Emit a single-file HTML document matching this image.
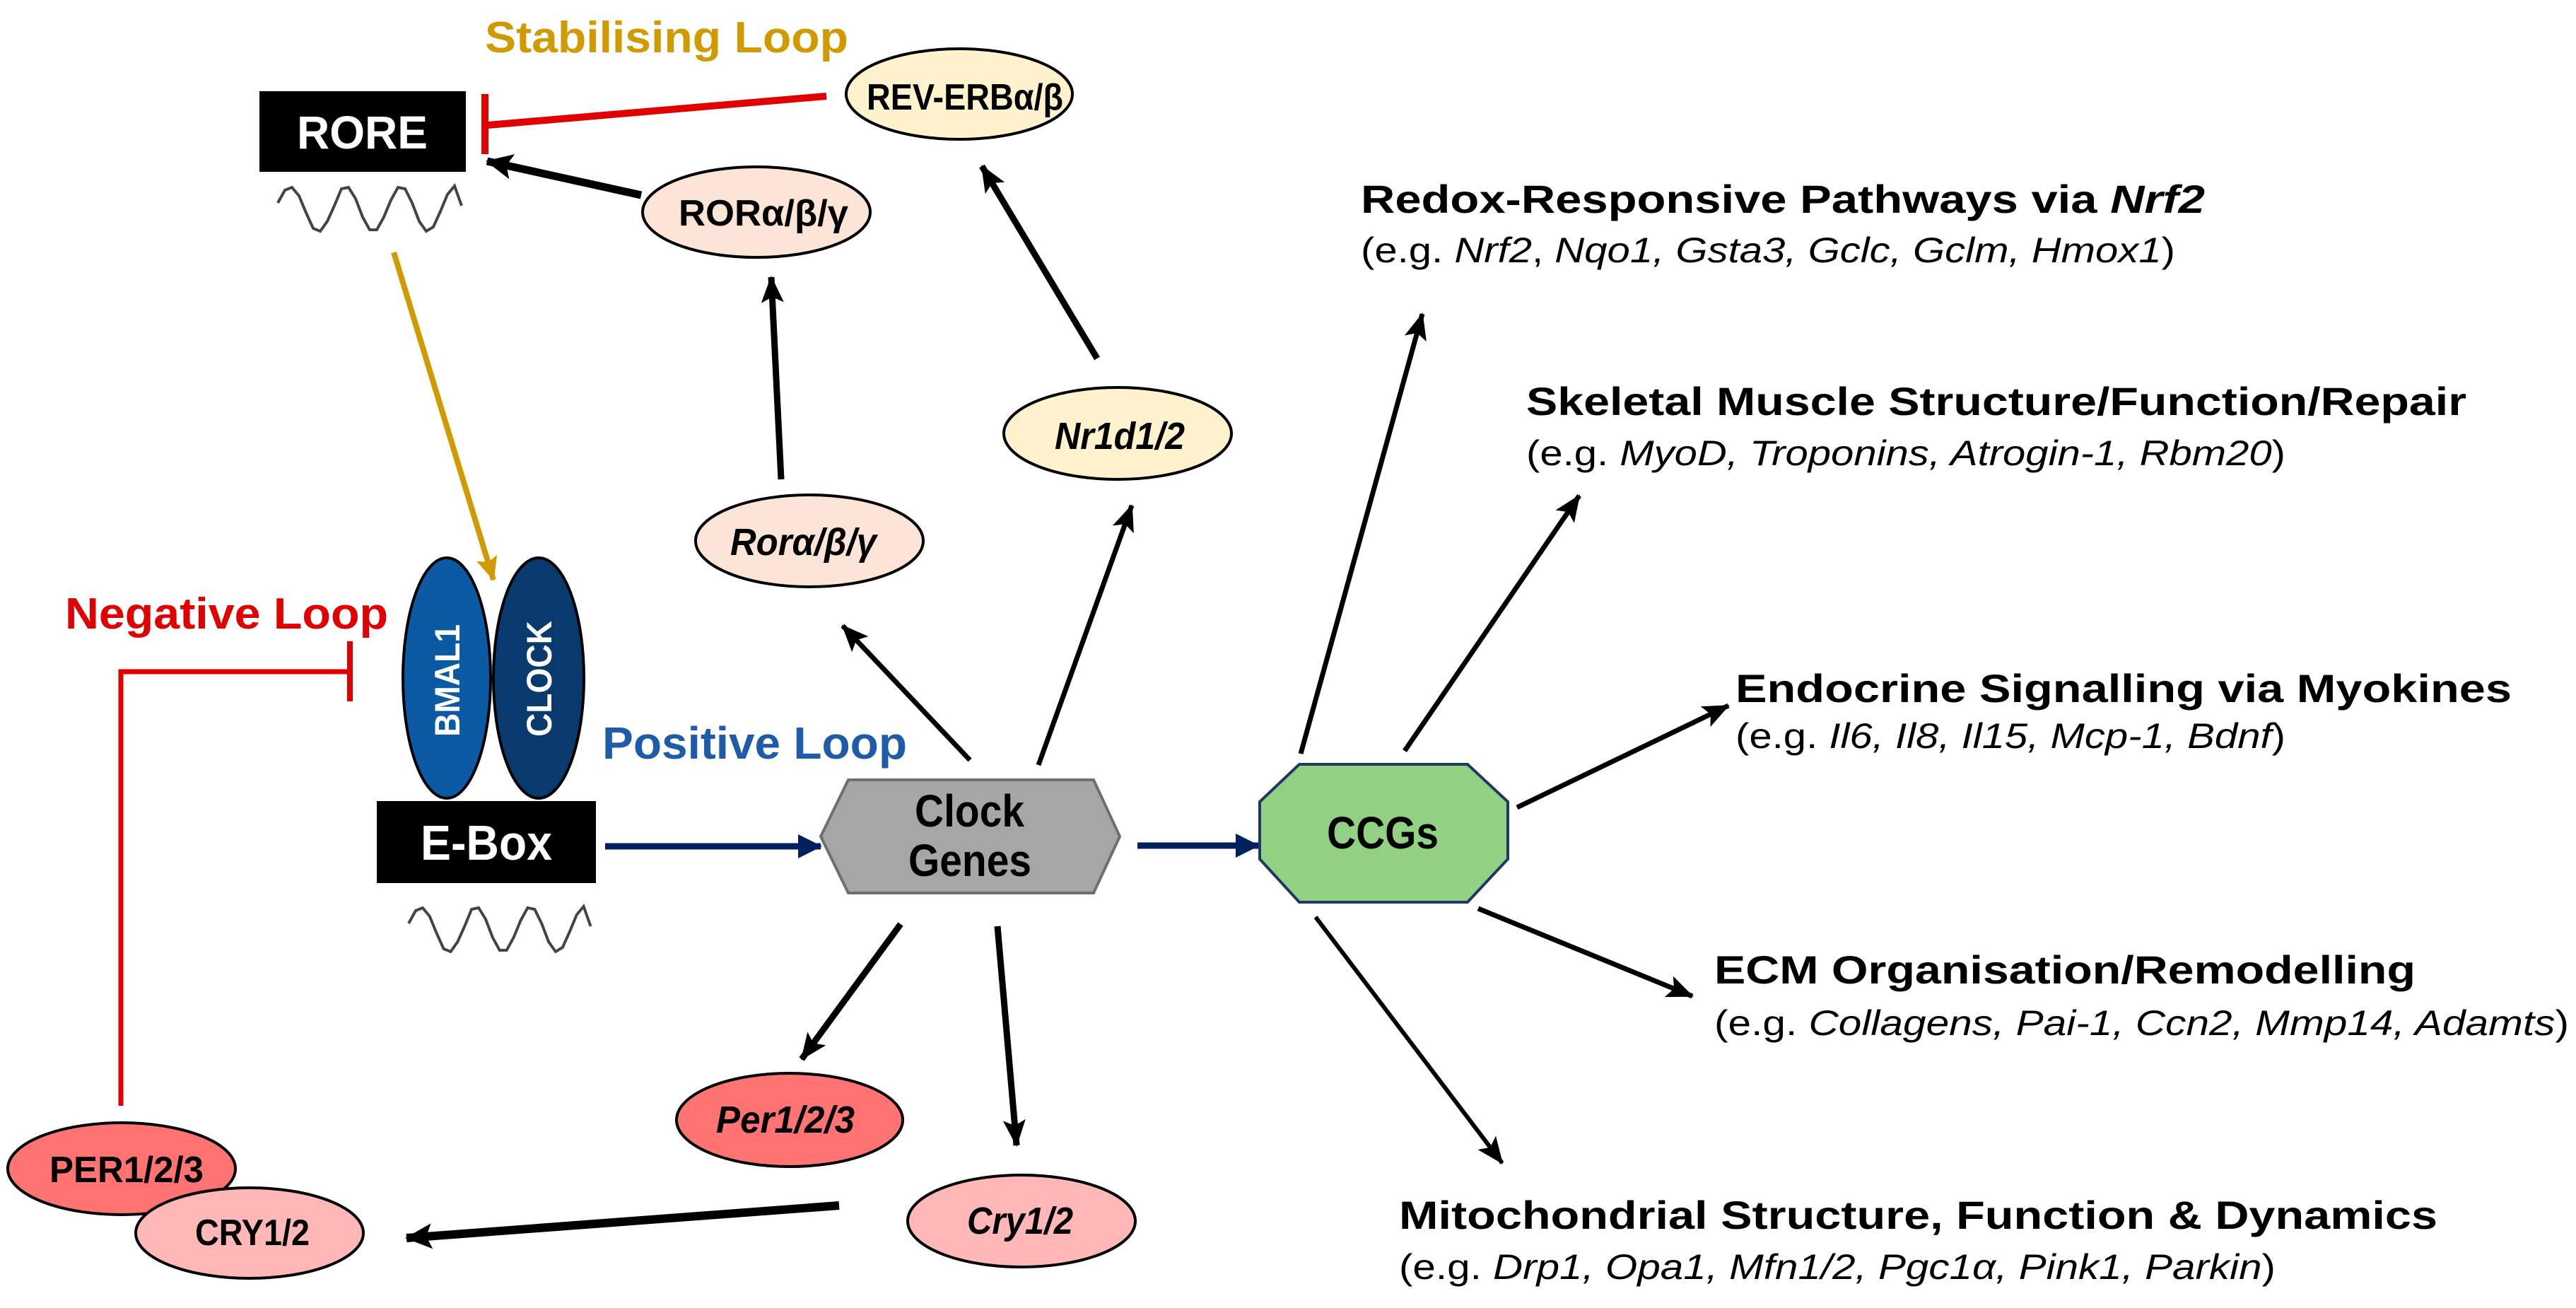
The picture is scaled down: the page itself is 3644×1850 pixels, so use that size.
<!DOCTYPE html>
<html><head><meta charset="utf-8"><style>html,body{margin:0;padding:0;background:#fff}svg{display:block}</style></head>
<body>
<svg width="3644" height="1850" viewBox="0 0 3644 1850" xmlns="http://www.w3.org/2000/svg" font-family="Liberation Sans, Arial, sans-serif" font-weight="bold">
<defs>
<marker id="ab" markerUnits="userSpaceOnUse" markerWidth="40" markerHeight="32" refX="36" refY="16" orient="auto"><path d="M0,0 L38,16 L0,32 L8,16 Z" fill="#000"/></marker>
<marker id="abl" markerUnits="userSpaceOnUse" markerWidth="40" markerHeight="36" refX="36" refY="18" orient="auto"><path d="M0,0 L38,18 L0,36 L8,18 Z" fill="#000"/></marker>
<marker id="an" markerUnits="userSpaceOnUse" markerWidth="34" markerHeight="34" refX="32" refY="17" orient="auto"><path d="M0,0 L34,17 L0,34 Z" fill="#002060"/></marker>
<marker id="ag" markerUnits="userSpaceOnUse" markerWidth="34" markerHeight="30" refX="32" refY="15" orient="auto"><path d="M0,0 L34,15 L0,30 L6,15 Z" fill="#D09A00"/></marker>
</defs>

<text x="686" y="74" font-size="62" fill="#D09A00" textLength="514" lengthAdjust="spacingAndGlyphs">Stabilising Loop</text>
<rect x="367" y="129" width="292" height="114" fill="#000"/>
<text x="420" y="210" font-size="66" fill="#fff" textLength="185" lengthAdjust="spacingAndGlyphs">RORE</text>
<g fill="none" stroke="#444" stroke-width="4">
<polyline points="393,286 403,268 413,264 423,276 433,300 443,322 453,326 463,312 473,290 483,266 493,264 503,280 513,306 523,324 533,324 543,306 553,282 563,264 573,266 583,286 593,312 603,326 613,320 623,298 633,274 643,262 653,290" transform="translate(0,1)"/>
<polyline points="393,286 403,268 413,264 423,276 433,300 443,322 453,326 463,312 473,290 483,266 493,264 503,280 513,306 523,324 533,324 543,306 553,282 563,264 573,266 583,286 593,312 603,326 613,320 623,298 633,274 643,262 653,290" transform="translate(189,1020) scale(0.99,1)"/>
</g>
<line x1="1169" y1="136" x2="690" y2="177" stroke="#E00000" stroke-width="10"/>
<line x1="686" y1="133" x2="686" y2="218" stroke="#E00000" stroke-width="10"/>
<line x1="907" y1="276" x2="689" y2="228" stroke="#000" stroke-width="11" marker-end="url(#abl)"/>
<line x1="557" y1="357" x2="698" y2="820" stroke="#D09A00" stroke-width="8" marker-end="url(#ag)"/>

<ellipse cx="1357" cy="133" rx="160" ry="64" fill="#FFF2CC" stroke="#000" stroke-width="4"/>
<text x="1226" y="155" font-size="52" textLength="278" lengthAdjust="spacingAndGlyphs">REV-ERBα/β</text>
<ellipse cx="1070" cy="300" rx="161" ry="64" fill="#FCE4D6" stroke="#000" stroke-width="4"/>
<text x="960" y="319" font-size="52" textLength="240" lengthAdjust="spacingAndGlyphs">RORα/β/γ</text>
<ellipse cx="1581" cy="613" rx="161" ry="65" fill="#FFF2CC" stroke="#000" stroke-width="4"/>
<text x="1492" y="635" font-size="54" font-style="italic" textLength="184" lengthAdjust="spacingAndGlyphs">Nr1d1/2</text>
<ellipse cx="1145" cy="765" rx="161" ry="65" fill="#FCE4D6" stroke="#000" stroke-width="4"/>
<text x="1033" y="785" font-size="54" font-style="italic" textLength="207" lengthAdjust="spacingAndGlyphs">Rorα/β/γ</text>

<line x1="1105" y1="678" x2="1091" y2="392" stroke="#000" stroke-width="9" marker-end="url(#ab)"/>
<line x1="1552" y1="507" x2="1389" y2="235" stroke="#000" stroke-width="9" marker-end="url(#ab)"/>
<line x1="1372" y1="1075" x2="1192" y2="885" stroke="#000" stroke-width="7" marker-end="url(#ab)"/>
<line x1="1469" y1="1082" x2="1601" y2="715" stroke="#000" stroke-width="7" marker-end="url(#ab)"/>

<text x="92" y="889" font-size="62" fill="#E00000" textLength="457" lengthAdjust="spacingAndGlyphs">Negative Loop</text>
<polyline points="171,1564 171,950 491,950" fill="none" stroke="#E00000" stroke-width="7"/>
<line x1="495" y1="907" x2="495" y2="992" stroke="#E00000" stroke-width="8"/>

<ellipse cx="632" cy="959" rx="62" ry="170" fill="#0B5AA3" stroke="#000" stroke-width="4"/>
<ellipse cx="762" cy="959" rx="64" ry="170" fill="#083A6E" stroke="#000" stroke-width="4"/>
<text transform="translate(650,1042) rotate(-90)" font-size="50" fill="#fff" textLength="159" lengthAdjust="spacingAndGlyphs">BMAL1</text>
<text transform="translate(780,1042) rotate(-90)" font-size="50" fill="#fff" textLength="164" lengthAdjust="spacingAndGlyphs">CLOCK</text>
<rect x="533" y="1133" width="310" height="116" fill="#000"/>
<text x="595" y="1216" font-size="70" fill="#fff" textLength="186" lengthAdjust="spacingAndGlyphs">E-Box</text>
<text x="852" y="1073" font-size="64" fill="#1E5BA8" textLength="431" lengthAdjust="spacingAndGlyphs">Positive Loop</text>

<line x1="856" y1="1197" x2="1161" y2="1197" stroke="#002060" stroke-width="9" marker-end="url(#an)"/>
<polygon points="1200,1103 1547,1103 1584,1183 1547,1263 1200,1263 1161,1183" fill="#A6A6A6" stroke="#6f6f6f" stroke-width="4"/>
<text x="1294" y="1169" font-size="64" textLength="155" lengthAdjust="spacingAndGlyphs">Clock</text>
<text x="1285" y="1239" font-size="64" textLength="174" lengthAdjust="spacingAndGlyphs">Genes</text>
<line x1="1609" y1="1196" x2="1780" y2="1196" stroke="#002060" stroke-width="9" marker-end="url(#an)"/>

<polygon points="1838,1081 2076,1081 2133,1134 2133,1215 2076,1276 1838,1276 1782,1215 1782,1134" fill="#92D183" stroke="#1F3864" stroke-width="4"/>
<text x="1877" y="1200" font-size="64" textLength="158" lengthAdjust="spacingAndGlyphs">CCGs</text>

<line x1="1274" y1="1307" x2="1134" y2="1498" stroke="#000" stroke-width="9" marker-end="url(#ab)"/>
<line x1="1411" y1="1310" x2="1438" y2="1620" stroke="#000" stroke-width="9" marker-end="url(#ab)"/>
<ellipse cx="1117" cy="1584" rx="160" ry="66" fill="#FF7373" stroke="#000" stroke-width="4"/>
<text x="1013" y="1602" font-size="54" font-style="italic" textLength="196" lengthAdjust="spacingAndGlyphs">Per1/2/3</text>
<ellipse cx="1445" cy="1727" rx="161" ry="65" fill="#FFB7B7" stroke="#000" stroke-width="4"/>
<text x="1368" y="1745" font-size="54" font-style="italic" textLength="150" lengthAdjust="spacingAndGlyphs">Cry1/2</text>
<line x1="1187" y1="1705" x2="575" y2="1751" stroke="#000" stroke-width="12" marker-end="url(#abl)"/>
<ellipse cx="172" cy="1653" rx="161" ry="65" fill="#FF7373" stroke="#000" stroke-width="4"/>
<text x="70" y="1672" font-size="52" textLength="218" lengthAdjust="spacingAndGlyphs">PER1/2/3</text>
<ellipse cx="353" cy="1744" rx="161" ry="64" fill="#FFB7B7" stroke="#000" stroke-width="4"/>
<text x="276" y="1761" font-size="52" textLength="162" lengthAdjust="spacingAndGlyphs">CRY1/2</text>

<line x1="1840" y1="1066" x2="2012" y2="444" stroke="#000" stroke-width="7" marker-end="url(#ab)"/>
<line x1="1987" y1="1062" x2="2234" y2="701" stroke="#000" stroke-width="7" marker-end="url(#ab)"/>
<line x1="2146" y1="1142" x2="2445" y2="998" stroke="#000" stroke-width="7" marker-end="url(#ab)"/>
<line x1="2091" y1="1285" x2="2394" y2="1409" stroke="#000" stroke-width="7" marker-end="url(#ab)"/>
<line x1="1861" y1="1297" x2="2125" y2="1645" stroke="#000" stroke-width="6" marker-end="url(#ab)"/>

<g font-size="56">
<text x="1925" y="301" textLength="1194" lengthAdjust="spacingAndGlyphs">Redox-Responsive Pathways via <tspan font-style="italic">Nrf2</tspan></text>
<text x="2159" y="587" textLength="1330" lengthAdjust="spacingAndGlyphs">Skeletal Muscle Structure/Function/Repair</text>
<text x="2455" y="993" textLength="1098" lengthAdjust="spacingAndGlyphs">Endocrine Signalling via Myokines</text>
<text x="2425" y="1391" textLength="992" lengthAdjust="spacingAndGlyphs">ECM Organisation/Remodelling</text>
<text x="1979" y="1738" textLength="1469" lengthAdjust="spacingAndGlyphs">Mitochondrial Structure, Function &amp; Dynamics</text>
</g>
<g font-size="50" font-weight="normal">
<text x="1925" y="371" textLength="1152" lengthAdjust="spacingAndGlyphs">(e.g. <tspan font-style="italic">Nrf2</tspan>, <tspan font-style="italic">Nqo1, Gsta3, Gclc, Gclm, Hmox1</tspan>)</text>
<text x="2159" y="658" textLength="1074" lengthAdjust="spacingAndGlyphs">(e.g. <tspan font-style="italic">MyoD, Troponins, Atrogin-1, Rbm20</tspan>)</text>
<text x="2455" y="1058" textLength="778" lengthAdjust="spacingAndGlyphs">(e.g. <tspan font-style="italic">Il6, Il8, Il15, Mcp-1, Bdnf</tspan>)</text>
<text x="2425" y="1464" textLength="1209" lengthAdjust="spacingAndGlyphs">(e.g. <tspan font-style="italic">Collagens, Pai-1, Ccn2, Mmp14, Adamts</tspan>)</text>
<text x="1979" y="1809" textLength="1240" lengthAdjust="spacingAndGlyphs">(e.g. <tspan font-style="italic">Drp1, Opa1, Mfn1/2, Pgc1α, Pink1, Parkin</tspan>)</text>
</g>
</svg>
</body></html>
